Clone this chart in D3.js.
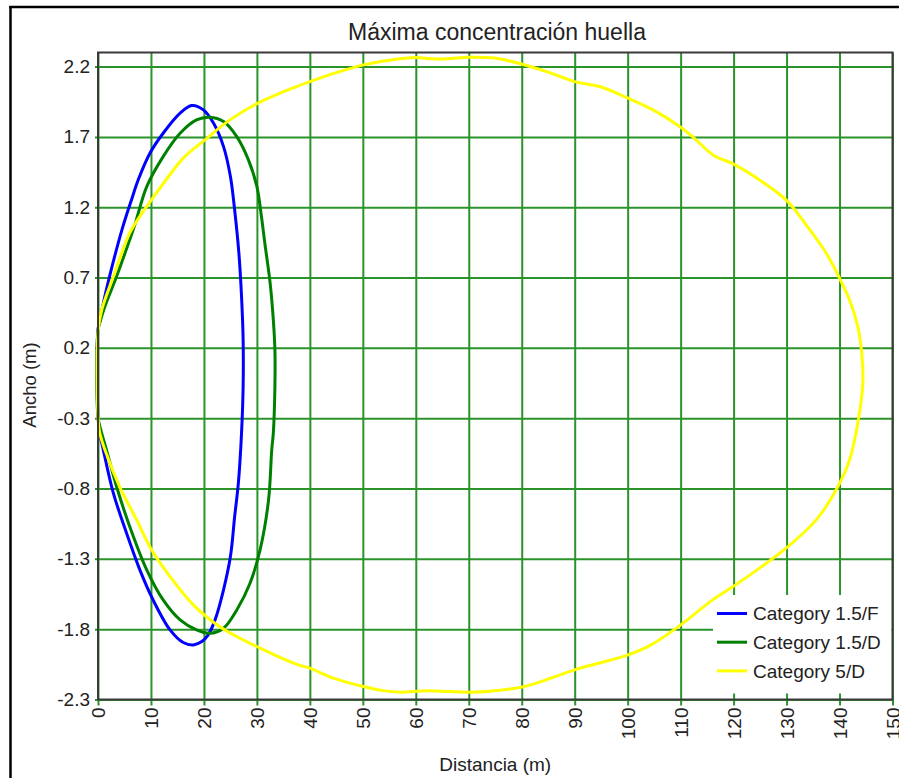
<!DOCTYPE html>
<html>
<head>
<meta charset="utf-8">
<script src="https://cdn.jsdelivr.net/npm/d3@7"></script>
<style>
  html, body { margin: 0; padding: 0; background: #ffffff; }
  svg { display: block; }
  text { font-family: "Liberation Sans", Arial, sans-serif; fill: #222; }
</style>
</head>
<body>
<svg id="chart" width="899" height="778"></svg>
<script>
// ---------- data ----------
const title = "Máxima concentración huella";
const xLabel = "Distancia (m)";
const yLabel = "Ancho (m)";

const xTicks = [0, 10, 20, 30, 40, 50, 60, 70, 80, 90, 100, 110, 120, 130, 140, 150];
const xTickLabels = ["0","10","20","30","40","50","60","70","80","90","100","110","120","130","140","150"];
const yTicks = [-2.3, -1.8, -1.3, -0.8, -0.3, 0.2, 0.7, 1.2, 1.7, 2.2];
const yTickLabels = ["-2.3","-1.8","-1.3","-0.8","-0.3","0.2","0.7","1.2","1.7","2.2"];

const seriesNames = ["Category 1.5/F", "Category 1.5/D", "Category 5/D"];

// Category 1.5/F  (x = distance, y = width)
const f15X = [0, 0.4, 1.2, 2.8, 4.6, 6.3, 7.6, 9.8, 12.3, 15.5, 17.7, 19.9, 21.8, 23.7, 25.0, 25.8, 26.6, 27.1, 27.4, 27.4, 27.1, 26.5, 25.8, 25.0, 23.7, 22.1, 20.8, 19.6, 18.0, 16.1, 13.6, 10.4, 7.9, 5.4, 2.9, 1.0, 0.3, 0];
const f15Y = [0.33, 0.40, 0.55, 0.80, 1.05, 1.25, 1.395, 1.584, 1.726, 1.869, 1.923, 1.892, 1.798, 1.631, 1.418, 1.18, 0.873, 0.565, 0.257, -0.075, -0.406, -0.762, -0.999, -1.284, -1.52, -1.734, -1.84, -1.888, -1.912, -1.895, -1.805, -1.592, -1.378, -1.118, -0.833, -0.525, -0.40, -0.29];

// Category 1.5/D
const d15X = [0, 0.5, 1.3, 3.5, 6.0, 7.0, 9.2, 12.3, 15.5, 18.6, 21.1, 23.7, 26.2, 28.4, 30.0, 30.8, 31.5, 32.5, 33.1, 33.4, 33.4, 33.1, 32.8, 32.2, 30.6, 28.7, 26.2, 23.7, 21.1, 18.6, 15.5, 12.3, 9.2, 6.0, 3.5, 1.6, 0.5, 0];
const d15Y = [0.32, 0.40, 0.494, 0.707, 0.97, 1.08, 1.347, 1.56, 1.726, 1.821, 1.84, 1.809, 1.702, 1.537, 1.347, 1.15, 0.944, 0.66, 0.399, 0.186, -0.075, -0.406, -0.525, -0.881, -1.236, -1.473, -1.663, -1.793, -1.829, -1.805, -1.734, -1.592, -1.378, -1.071, -0.786, -0.525, -0.38, -0.29];

// Category 5/D
const d5X = [0, 0.7, 2.9, 6.0, 8.5, 10.1, 16.1, 20.2, 24.9, 30.2, 36.2, 40.0, 45.0, 50.1, 55.0, 60.0, 63.0, 66.0, 70.0, 74.5, 79.6, 85.0, 90.0, 94.7, 100.1, 104.8, 110.0, 112.6, 116.1, 119.9, 124.9, 129.9, 133.7, 137.5, 139.9, 142.0, 143.4, 144.2, 144.4, 143.6, 141.9, 139.7, 135.6, 129.9, 124.9, 119.9, 116.1, 110.0, 104.5, 100.1, 94.7, 90.0, 84.6, 79.9, 74.6, 70.2, 66.4, 62.0, 57.0, 53.8, 50.1, 44.4, 40.0, 37.8, 30.6, 23.0, 18.0, 13.6, 10.1, 7.3, 4.2, 1.3, 0.3, 0];
const d5Y = [0.31, 0.47, 0.707, 1.017, 1.169, 1.252, 1.549, 1.679, 1.821, 1.94, 2.039, 2.093, 2.157, 2.212, 2.245, 2.264, 2.255, 2.256, 2.266, 2.262, 2.222, 2.16, 2.093, 2.058, 1.975, 1.892, 1.769, 1.69, 1.572, 1.508, 1.394, 1.252, 1.075, 0.873, 0.703, 0.53, 0.36, 0.16, -0.051, -0.30, -0.596, -0.786, -1.023, -1.224, -1.366, -1.497, -1.59, -1.77, -1.91, -1.983, -2.04, -2.089, -2.16, -2.213, -2.239, -2.248, -2.244, -2.237, -2.248, -2.237, -2.208, -2.148, -2.077, -2.054, -1.935, -1.782, -1.627, -1.426, -1.236, -1.023, -0.797, -0.525, -0.40, -0.29];

const seriesX = [f15X, d15X, d5X];
const seriesY = [f15Y, d15Y, d5Y];
const seriesColors = ["#0000ff", "#008000", "#ffff00"];

// ---------- layout ----------
const svg = d3.select("#chart");
const pLeft = 98, pRight = 892.5, pTop = 52.5, pBottom = 699.5;
const x = d3.scaleLinear().domain([0, 150]).range([pLeft, pRight]);
const y = d3.scaleLinear().domain([-2.3, 2.3]).range([pBottom, pTop]);
const gridColor = "#2a942a";

svg.append("rect").attr("width", 899).attr("height", 778).attr("fill", "#ffffff");

// outer frame (only left and top visible)
svg.append("line").attr("x1", 10.5).attr("x2", 10.5).attr("y1", 6).attr("y2", 778)
  .attr("stroke", "#000").attr("stroke-width", 2.5);
svg.append("line").attr("x1", 9.25).attr("x2", 899).attr("y1", 7).attr("y2", 7)
  .attr("stroke", "#000").attr("stroke-width", 2.5);

// horizontal grid
const gy = svg.append("g").attr("transform", `translate(${pLeft - 3},0)`)
  .call(d3.axisLeft(y).tickValues(yTicks).tickSize(-(pRight - pLeft + 3)).tickFormat(""));
gy.select(".domain").remove();
gy.selectAll("line").attr("stroke", gridColor).attr("stroke-width", 2);

// vertical grid
const gx = svg.append("g").attr("transform", `translate(0,${pBottom + 6})`)
  .call(d3.axisBottom(x).tickValues(xTicks).tickSize(-(pBottom - pTop + 6)).tickFormat(""));
gx.select(".domain").remove();
gx.selectAll("line").attr("stroke", gridColor).attr("stroke-width", 2);

// y tick labels
const ly = svg.append("g").attr("transform", `translate(${pLeft},0)`)
  .call(d3.axisLeft(y).tickValues(yTicks).tickSize(0).tickPadding(8)
    .tickFormat((d, i) => yTickLabels[i]));
ly.select(".domain").remove();
ly.selectAll("text").attr("font-size", 19).attr("font-family", "Liberation Sans, Arial, sans-serif").attr("fill", "#222");

// x tick labels (rotated)
const lx = svg.append("g").attr("transform", `translate(0,${pBottom})`)
  .call(d3.axisBottom(x).tickValues(xTicks).tickSize(0).tickFormat((d, i) => xTickLabels[i]));
lx.select(".domain").remove();
lx.selectAll("text")
  .attr("font-size", 19).attr("font-family", "Liberation Sans, Arial, sans-serif").attr("fill", "#222")
  .attr("text-anchor", "end").attr("dy", "0.35em").attr("y", 0)
  .attr("transform", "translate(0,8) rotate(-90)");

// legend background
const legX = 713, legY = 595;
svg.append("rect").attr("x", legX).attr("y", legY).attr("width", pRight - 1 - legX).attr("height", pBottom - 6 - legY)
  .attr("fill", "#ffffff");

// curves
const line = d3.line().x(d => x(d[0])).y(d => y(d[1])).curve(d3.curveCatmullRomClosed.alpha(0.5));
seriesX.forEach((xs, s) => {
  const pts = xs.map((v, i) => [v, seriesY[s][i]]);
  svg.append("path").datum(pts).attr("d", line)
    .attr("fill", "none").attr("stroke", seriesColors[s]).attr("stroke-width", 3)
    .attr("stroke-linejoin", "round");
});

// plot frame
svg.append("path")
  .attr("d", `M${pLeft},${pBottom} L${pLeft},${pTop} L${pRight},${pTop} L${pRight},${pBottom} Z`)
  .attr("fill", "none").attr("stroke", "#3a3a3a").attr("stroke-width", 2);

// legend items
seriesNames.forEach((name, i) => {
  const ry = 613.5 + i * 28.7;
  svg.append("line").attr("x1", 717).attr("x2", 747).attr("y1", ry).attr("y2", ry)
    .attr("stroke", seriesColors[i]).attr("stroke-width", 3);
  svg.append("text").attr("x", 753).attr("y", ry).attr("dy", "0.35em")
    .attr("font-size", 19).text(name);
});

// title and axis labels
svg.append("text").attr("x", 497).attr("y", 40).attr("text-anchor", "middle")
  .attr("font-size", 23).text(title);
svg.append("text").attr("x", (pLeft + pRight) / 2).attr("y", 771).attr("text-anchor", "middle")
  .attr("font-size", 19).text(xLabel);
svg.append("text").attr("transform", `translate(36,385) rotate(-90)`).attr("text-anchor", "middle")
  .attr("font-size", 18.5).text(yLabel);
</script>
</body>
</html>
